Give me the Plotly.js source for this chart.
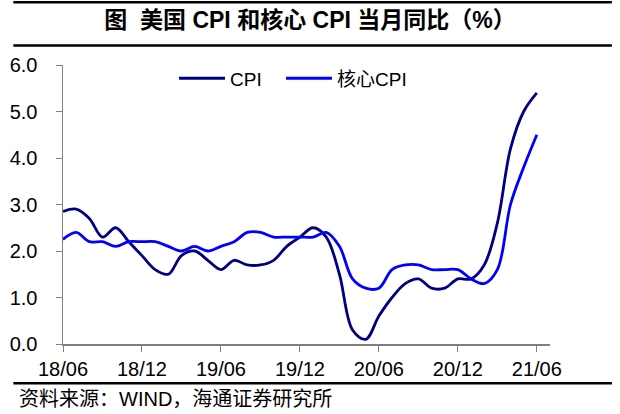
<!DOCTYPE html>
<html><head><meta charset="utf-8">
<script src="https://cdn.plot.ly/plotly-3.0.1.min.js"></script>
<style>html,body{margin:0;padding:0;background:#fff;}#chart{width:620px;height:414px;}</style>
</head><body><div id="chart"></div>
<script>
const months = ["18/06","18/07","18/08","18/09","18/10","18/11","18/12",
"19/01","19/02","19/03","19/04","19/05","19/06","19/07","19/08","19/09","19/10","19/11","19/12",
"20/01","20/02","20/03","20/04","20/05","20/06","20/07","20/08","20/09","20/10","20/11","20/12",
"21/01","21/02","21/03","21/04","21/05","21/06"];
const cpi = [2.85,2.9,2.7,2.3,2.5,2.2,1.9,1.6,1.5,1.9,2.0,1.8,1.6,1.8,1.7,1.7,1.8,2.1,2.3,
2.5,2.3,1.5,0.3,0.1,0.6,1.0,1.3,1.4,1.2,1.2,1.4,1.4,1.7,2.6,4.2,5.0,5.4];
const core = [2.25,2.4,2.2,2.2,2.1,2.2,2.2,2.2,2.1,2.0,2.1,2.0,2.1,2.2,2.4,2.4,2.3,2.3,2.3,
2.3,2.4,2.1,1.4,1.2,1.2,1.6,1.7,1.7,1.6,1.6,1.6,1.4,1.3,1.6,3.0,3.8,4.5];
const tickLabels = ["18/06","18/12","19/06","19/12","20/06","20/12","21/06"];
const yTicks = [0,1,2,3,4,5,6];

const xIdx = months.map((m,i)=>i);
const tickIdx = tickLabels.map(t=>months.indexOf(t));

const traces = [
  {x:xIdx, y:cpi, name:"CPI", type:"scatter", mode:"lines", legend:"legend",
   line:{color:"#000080", width:2.8, shape:"spline", smoothing:1}},
  {x:xIdx, y:core, name:"核心CPI", type:"scatter", mode:"lines", legend:"legend2",
   line:{color:"#0000FF", width:2.8, shape:"spline", smoothing:1}}
];
const fontSans = "Liberation Sans, Arial, sans-serif";
const legFont = {family:"Liberation Sans, Noto Sans CJK SC, sans-serif", size:19, color:"#000"};
const layout = {
  width:620, height:414,
  margin:{l:63, r:70, t:65, b:70},
  paper_bgcolor:"#fff", plot_bgcolor:"#fff",
  showlegend:true,
  legend:{orientation:"h", x:0.228, y:1.02, xanchor:"left", yanchor:"top",
    font:legFont, bgcolor:"rgba(0,0,0,0)", itemwidth:46},
  legend2:{orientation:"h", x:0.4476, y:1.02, xanchor:"left", yanchor:"top",
    font:legFont, bgcolor:"rgba(0,0,0,0)", itemwidth:46},
  xaxis:{range:[0,37], tickvals:tickIdx, ticktext:tickLabels, showgrid:false, zeroline:false,
    showline:true, linecolor:"#808080", linewidth:1.5, ticks:"outside", ticklen:6, tickcolor:"#808080",
    tickfont:{family:fontSans, size:20, color:"#000"}},
  yaxis:{range:[0,6], tickvals:yTicks, tickformat:".1f", showgrid:false, zeroline:false,
    showline:true, linecolor:"#808080", linewidth:1.5, ticks:"outside", ticklen:6, tickcolor:"#808080",
    tickfont:{family:fontSans, size:20, color:"#000"}, ticklabelstandoff:14},
  title:{text:"<b>图  美国 CPI 和核心 CPI 当月同比（%）</b>", x:0.5, xanchor:"center", y:0.953, yanchor:"middle",
    font:{family:"Liberation Sans, Noto Sans CJK SC, sans-serif", size:23, color:"#000"}},
  shapes:[
    {type:"line", xref:"paper", yref:"paper", x0:-0.102, x1:1.127, y0:1.225, y1:1.225, line:{color:"#000", width:2.5}},
    {type:"line", xref:"paper", yref:"paper", x0:-0.102, x1:1.127, y0:1.07, y1:1.07, line:{color:"#000", width:2.5}},
    {type:"line", xref:"paper", yref:"paper", x0:-0.102, x1:1.127, y0:-0.141, y1:-0.141, line:{color:"#000", width:2.5}}
  ],
  annotations:[
    {text:"资料来源：WIND，海通证券研究所", xref:"paper", yref:"paper", x:-0.095, y:-0.197, xanchor:"left", yanchor:"middle",
     showarrow:false, font:{family:"Liberation Sans, Noto Sans CJK SC, sans-serif", size:20, color:"#000"}}
  ]
};
Plotly.newPlot("chart", traces, layout, {staticPlot:true, displayModeBar:false});
</script></body></html>
